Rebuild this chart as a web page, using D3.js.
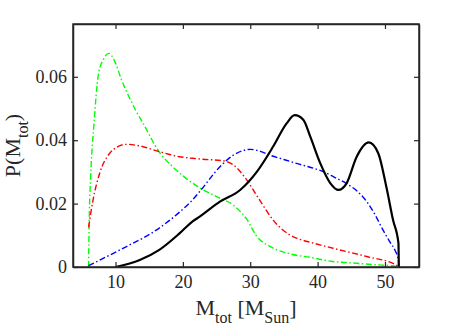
<!DOCTYPE html>
<html><head><meta charset="utf-8">
<script src="https://cdn.jsdelivr.net/npm/d3@7"></script>
<style>body{margin:0;background:#fff}svg{display:block}</style>
</head><body>
<script>
const xTicks = [10, 20, 30, 40, 50];
const yTicks = [0, 0.02, 0.04, 0.06];
const yTickLabels = ["0", "0.02", "0.04", "0.06"];

const greenM = [6.0, 6.1, 6.3, 6.8, 7.45, 8.2, 9.04, 9.9, 10.9, 12, 13, 14.1, 16.45, 18.5, 20, 22.5, 25.5, 27.5, 29.5, 31, 33, 36, 39, 42, 45, 48, 51, 52];
const greenP = [0, 0.015, 0.028, 0.045, 0.0606, 0.0655, 0.0674, 0.0648, 0.059, 0.0537, 0.0494, 0.0453, 0.0364, 0.0316, 0.0288, 0.025, 0.0217, 0.0195, 0.015, 0.0096, 0.0064, 0.0041, 0.003, 0.0018, 0.0013, 0.0008, 0.0004, 0];

const redM = [6.0, 6.66, 7.65, 9.14, 10.2, 11.6, 13.6, 16.5, 19.5, 21.4, 23, 26, 27.5, 29.5, 31.4, 33.4, 35.9, 37.4, 38.9, 42.3, 47.3, 51.7, 52];
const redP = [0.0125, 0.0211, 0.0296, 0.0359, 0.0378, 0.0387, 0.0382, 0.0364, 0.0348, 0.0343, 0.034, 0.0335, 0.0322, 0.0274, 0.0211, 0.0148, 0.0101, 0.0087, 0.0078, 0.0059, 0.0033, 0.0006, 0];

const blueM = [6.0, 11.1, 16.1, 19.6, 21.4, 22.5, 25.5, 27.5, 30, 31.5, 32.9, 35, 37, 39, 40.85, 42.5, 44.3, 46, 47.3, 48.5, 49.7, 50.7, 51.5, 52, 52.05];
const blueP = [0.0004, 0.0059, 0.0117, 0.0175, 0.0211, 0.0238, 0.0316, 0.0353, 0.0371, 0.0365, 0.0353, 0.0339, 0.0326, 0.0314, 0.0301, 0.0283, 0.0263, 0.0237, 0.0206, 0.0166, 0.0117, 0.008, 0.0052, 0.0022, 0];

const blackM = [10, 13.6, 16.5, 19.5, 21.4, 22.5, 25.5, 28.5, 31, 33.4, 35.4, 36.6, 37.9, 38.9, 40.4, 41.9, 43.1, 44.3, 45.8, 47.6, 49, 50.2, 51.2, 52, 52.05];
const blackP = [0, 0.0022, 0.0054, 0.0106, 0.0143, 0.0159, 0.0206, 0.0243, 0.0301, 0.038, 0.0453, 0.0479, 0.0464, 0.0412, 0.0327, 0.0264, 0.0243, 0.0264, 0.0348, 0.0393, 0.0359, 0.0253, 0.0148, 0.0075, 0];

const W = 463, H = 328;
const m = {left: 73, top: 24, right: 419, bottom: 267};
const x = d3.scaleLinear().domain([3.69, 55.05]).range([m.left, m.right]);
const y = d3.scaleLinear().domain([0, 0.07666]).range([m.bottom, m.top]);

const svg = d3.select("body").append("svg").attr("width", W).attr("height", H);
const font = "'Liberation Serif', 'Times New Roman', serif";
const axCol = "#262626";

const series = [
  {M: greenM, P: greenP, color: "#00ff00", dash: "6,2.5,1.5,2.5", w: 1.4},
  {M: redM, P: redP, color: "#ff0000", dash: "6,2.5,1.5,2.5", w: 1.4},
  {M: blueM, P: blueP, color: "#0000ff", dash: "6,2.5,1.5,2.5", w: 1.4},
  {M: blackM, P: blackP, color: "#000000", dash: null, w: 2.2}
];
const line = d3.line().x(d => x(d[0])).y(d => y(d[1])).curve(d3.curveMonotoneX);
const g = svg.append("g");
series.forEach(s => {
  const pts = s.M.map((v, i) => [v, s.P[i]]);
  const p = g.append("path").attr("d", line(pts)).attr("fill", "none")
    .attr("stroke", s.color).attr("stroke-width", s.w).attr("stroke-linejoin", "round");
  if (s.dash) p.attr("stroke-dasharray", s.dash);
});

// axes
const tl = 5;
const xb = d3.axisBottom(x).tickValues(xTicks).tickSizeInner(-tl).tickSizeOuter(0).tickPadding(8);
const xt = d3.axisTop(x).tickValues(xTicks).tickSizeInner(-tl).tickSizeOuter(0).tickFormat("");
const yl = d3.axisLeft(y).tickValues(yTicks).tickSizeInner(-tl).tickSizeOuter(0).tickPadding(6).tickFormat((d, i) => yTickLabels[i]);
const yr = d3.axisRight(y).tickValues(yTicks).tickSizeInner(-tl).tickSizeOuter(0).tickFormat("");
[[xb, `translate(0,${m.bottom})`], [xt, `translate(0,${m.top})`], [yl, `translate(${m.left},0)`], [yr, `translate(${m.right},0)`]].forEach(([ax, tr]) => {
  const a = svg.append("g").attr("transform", tr).call(ax)
    .attr("font-family", font).attr("font-size", 18);
  a.select(".domain").attr("stroke", axCol).attr("stroke-width", 1.5);
  a.selectAll(".tick line").attr("stroke", axCol).attr("stroke-width", 1.2);
  a.selectAll("text").attr("fill", axCol).style("font-family", font).style("font-size", "18px");
});
svg.append("rect").attr("x", m.left).attr("y", m.top).attr("width", m.right - m.left).attr("height", m.bottom - m.top)
  .attr("fill", "none").attr("stroke", axCol).attr("stroke-width", 1.5);

// x label
const xlab = svg.append("text").attr("x", (m.left + m.right) / 2).attr("y", 315).attr("text-anchor", "middle")
  .attr("fill", axCol).style("font-family", font).style("font-size", "22px");
xlab.append("tspan").text("M");
xlab.append("tspan").text("tot").attr("dy", 8).style("font-size", "16px");
xlab.append("tspan").text(" [M").attr("dy", -8);
xlab.append("tspan").text("Sun").attr("dy", 8).style("font-size", "16px");
xlab.append("tspan").text("]").attr("dy", -8);

// y label
const ylab = svg.append("text").attr("transform", `translate(20,${(m.top + m.bottom) / 2}) rotate(-90)`).attr("text-anchor", "middle")
  .attr("fill", axCol).style("font-family", font).style("font-size", "22px");
ylab.append("tspan").text("P(M");
ylab.append("tspan").text("tot").attr("dy", 8).style("font-size", "16px");
ylab.append("tspan").text(")").attr("dy", -8);
</script>
</body></html>
